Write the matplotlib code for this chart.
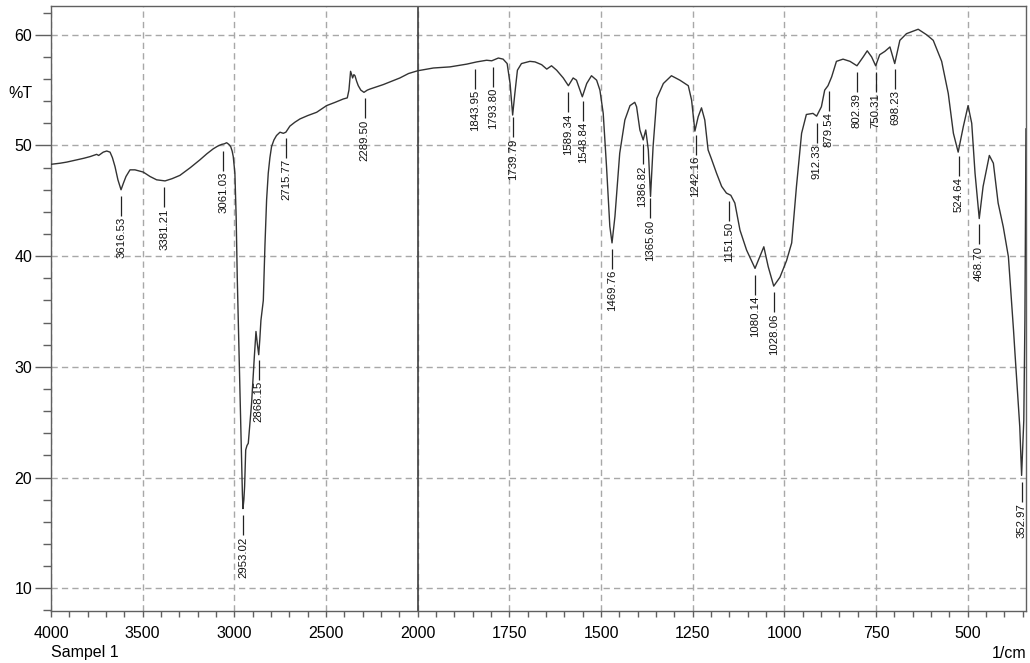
import numpy as np
import matplotlib.pyplot as plt
from matplotlib.ticker import FixedLocator, NullFormatter
from matplotlib.transforms import offset_copy

plt.rcParams['font.family'] = ['Liberation Sans', 'DejaVu Sans']

# spectrum (1/cm, %T)
wavenumber = np.array([
    4000, 3950, 3914, 3900, 3860, 3820, 3786, 3751, 3740, 3715, 3696, 3678, 3665, 3651, 3635,
    3618, 3605, 3591, 3569, 3542, 3497, 3460, 3424, 3378, 3340, 3297, 3240, 3188, 3150, 3115,
    3090, 3069, 3055, 3042, 3030, 3020, 3012, 3006, 2997, 2990, 2984, 2978, 2970, 2962, 2956,
    2953, 2948, 2944, 2938, 2931, 2924, 2906, 2891, 2882, 2874, 2867, 2861, 2855, 2842, 2833,
    2824, 2815, 2806, 2797, 2784, 2770, 2751, 2733, 2719, 2697, 2670, 2642, 2600, 2551, 2497,
    2450, 2406, 2384, 2375, 2366, 2360, 2355, 2348, 2342, 2333, 2324, 2310, 2293, 2275, 2260,
    2188, 2097, 2050, 2000, 1957, 1912, 1866, 1839, 1812, 1798, 1780, 1767, 1756, 1748, 1741,
    1735, 1728, 1717, 1694, 1680, 1662, 1648, 1635, 1621, 1603, 1589, 1576, 1567, 1551, 1539,
    1526, 1512, 1503, 1494, 1485, 1476, 1470, 1462, 1449, 1435, 1421, 1408, 1403, 1394, 1385,
    1378, 1371, 1365, 1358, 1348, 1330, 1308, 1285, 1262, 1253, 1244, 1235, 1226, 1217, 1208,
    1199, 1185, 1171, 1158, 1146, 1135, 1121, 1103, 1080, 1067, 1056, 1044, 1029, 1012, 994,
    980, 967, 953, 940, 922, 912, 899, 890, 881, 871, 858, 840, 821, 802, 785,
    774, 762, 751, 740, 726, 712, 699, 685, 667, 635, 612, 594, 571, 553, 539,
    526, 512, 499, 489, 480, 468.5, 458, 441, 430, 417, 403, 389, 375, 371, 362,
    358, 353, 347, 344, 341])
transmittance = np.array([
    48.3, 48.4, 48.5, 48.55, 48.7, 48.85, 49.0, 49.2, 49.1, 49.4, 49.5, 49.4, 48.9, 48.1, 46.9,
    46.0, 46.6, 47.2, 47.8, 47.8, 47.6, 47.2, 46.9, 46.8, 47.0, 47.3, 48.0, 48.7, 49.25, 49.7,
    49.95, 50.1, 50.15, 50.25, 50.1, 49.9, 49.5, 49.0, 47.5, 43.5, 38.0, 33.8, 28.2, 22.2, 18.5,
    17.2, 18.0, 19.2, 22.5, 22.9, 23.1, 26.7, 30.9, 33.2, 32.0, 31.1, 32.5, 34.2, 36.0, 41.0,
    45.1, 47.5, 48.9, 49.9, 50.5, 50.9, 51.2, 51.1, 51.2, 51.75, 52.1, 52.4, 52.7, 53.0, 53.6,
    53.9, 54.2, 54.3, 55.0, 56.7, 56.4, 56.1, 56.4, 56.3, 55.8, 55.4, 55.0, 54.8, 55.0, 55.1,
    55.5, 56.1, 56.5, 56.75, 57.0, 57.1, 57.35, 57.55, 57.7, 57.65, 57.9, 57.8, 57.4, 55.6, 52.75,
    54.7, 56.8, 57.4, 57.6, 57.55, 57.3, 56.9, 57.2, 56.8, 56.1, 55.4, 56.1, 55.9, 54.4, 55.6,
    56.3, 55.9, 55.0, 52.9, 48.1, 42.7, 41.2, 43.6, 49.3, 52.3, 53.6, 53.9, 53.5, 51.4, 50.5,
    51.4, 49.6, 45.4, 49.9, 54.25, 55.6, 56.3, 55.9, 55.4, 54.1, 51.3, 52.6, 53.4, 52.3, 49.6,
    48.8, 47.5, 46.3, 45.7, 45.5, 44.8, 42.35, 40.55, 38.9, 39.95, 40.85, 39.05, 37.3, 38.1, 39.6,
    41.2, 46.3, 51.1, 52.8, 52.9, 52.65, 53.5, 55.0, 55.4, 56.2, 57.6, 57.8, 57.6, 57.2, 58.0,
    58.55, 58.0, 57.2, 58.2, 58.5, 58.9, 57.4, 59.5, 60.1, 60.5, 60.0, 59.5, 57.6, 54.7, 51.1,
    49.4, 51.7, 53.6, 52.0, 47.5, 43.4, 46.3, 49.1, 48.4, 44.8, 42.65, 39.95, 33.3, 31.2, 26.7,
    24.6, 20.2, 25.2, 34.2, 51.5])

peak_labels = ['3616.53', '3381.21', '3061.03', '2953.02', '2868.15', '2715.77', '2289.50',
               '1843.95', '1793.80', '1739.79', '1589.34', '1548.84', '1469.76', '1386.82',
               '1365.60', '1242.16', '1151.50', '1080.14', '1028.06', '912.33', '879.54',
               '802.39', '750.31', '698.23', '524.64', '468.70', '352.97']

x_major = [4000, 3500, 3000, 2500, 2000, 1750, 1500, 1250, 1000, 750, 500]
y_major = [10, 20, 30, 40, 50, 60]


def fwd(x):
    x = np.asarray(x, dtype=float)
    return np.where(x >= 2000, x, 2000 - 2 * (2000 - x))


def inv(u):
    u = np.asarray(u, dtype=float)
    return np.where(u >= 2000, u, 2000 - (2000 - u) / 2)


fig = plt.figure(figsize=(10.3, 6.63), dpi=100)
ax = fig.add_axes([51 / 1030, 1 - 611 / 663, 975 / 1030, 605 / 663])
ax.set_xscale('function', functions=(fwd, inv))
ax.set_xlim(4000, 341)
ax.set_ylim(7.95, 62.6)

ax.plot(wavenumber, transmittance, color='#333333', lw=1.0, zorder=3)
ax.axvline(2000, color='#404040', lw=1.2, zorder=2)

x_minor = list(range(3900, 2000, -100)) + list(range(1950, 340, -50))
ax.xaxis.set_major_locator(FixedLocator(x_major))
ax.xaxis.set_minor_locator(FixedLocator(x_minor))
ax.xaxis.set_minor_formatter(NullFormatter())
ax.set_xticklabels([str(v) for v in x_major])
ax.yaxis.set_major_locator(FixedLocator(y_major))
ax.yaxis.set_minor_locator(FixedLocator(list(range(8, 63, 2))))

ax.grid(True, which='major', color='#a8a8a8', lw=1.0, linestyle=(0, (4.5, 3)), zorder=1)
for s in ax.spines.values():
    s.set_color('#606060')
    s.set_linewidth(1.0)
ax.tick_params(axis='y', which='major', direction='out', length=11.5, width=1, color='#606060',
               labelsize=11.5, pad=2)
ax.tick_params(axis='y', which='minor', direction='out', length=5.8, width=1, color='#606060')
ax.tick_params(axis='x', which='both', direction='out', length=4.5, width=1, color='#606060',
               labelsize=11.5, pad=6)

# peak markers
line_tr = offset_copy(ax.transData, fig=fig, x=0, y=-11.9, units='points')
for lab in peak_labels:
    wn = float(lab)
    t = np.interp(wn, wavenumber[::-1], transmittance[::-1])
    ax.plot([wn], [t], marker='|', ms=13.7, mew=0.9, color='#222222', transform=line_tr,
            zorder=4)
    ax.annotate(lab, xy=(wn, t), xytext=(0, -20), textcoords='offset points', rotation=90,
                ha='center', va='top', fontsize=8.2, color='#111111', zorder=4)

fig.text(8 / 1030, 1 - 93 / 663, '%T', fontsize=11.5, va='center', ha='left')
fig.text(51 / 1030, 1 - 652 / 663, 'Sampel 1', fontsize=11.5, va='center', ha='left')
fig.text(1026 / 1030, 1 - 653 / 663, '1/cm', fontsize=11.5, va='center', ha='right')

fig.savefig('out.png', dpi=100)
